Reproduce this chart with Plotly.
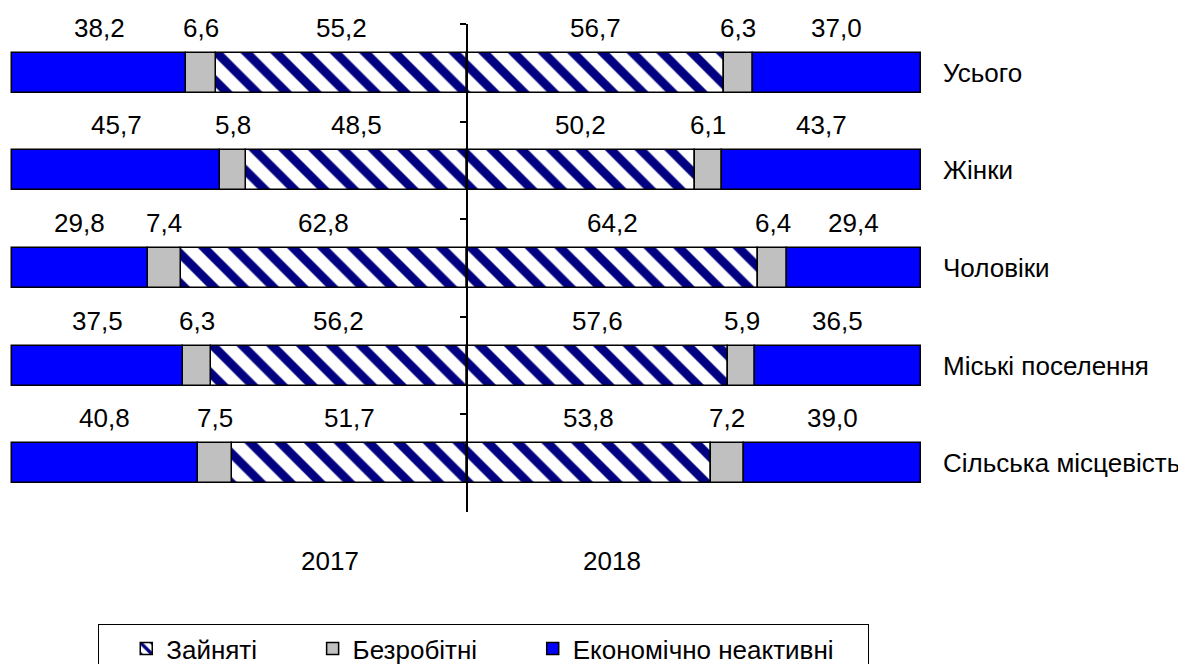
import plotly.graph_objects as go

# Categories (top to bottom)
categories = ['Усього', 'Жінки', 'Чоловіки', 'Міські поселення', 'Сільська місцевість']

# 2017 (left side), %
employed_2017 = [55.2, 48.5, 62.8, 56.2, 51.7]
unemployed_2017 = [6.6, 5.8, 7.4, 6.3, 7.5]
inactive_2017 = [38.2, 45.7, 29.8, 37.5, 40.8]

# 2018 (right side), %
employed_2018 = [56.7, 50.2, 64.2, 57.6, 53.8]
unemployed_2018 = [6.3, 6.1, 6.4, 5.9, 7.2]
inactive_2018 = [37.0, 43.7, 29.4, 36.5, 39.0]

years = ['2017', '2018']
year_pos = [-30, 32]

series_names = ['Зайняті', 'Безробітні', 'Економічно неактивні']

FONT = 'Arial, Liberation Sans, sans-serif'
FS = 26
NAVY = '#000080'
GREY = '#C0C0C0'
BLUE = '#0000FF'
BAR_W = 0.41
NB = '\u00a0'
legend_pad = [NB * 7, NB * 7, NB * 4]

styles = [
    dict(color='white', pattern=dict(shape='\\', fgcolor=NAVY, bgcolor='white', fgopacity=1,
                                     size=21, solidity=0.42)),
    dict(color=GREY),
    dict(color=BLUE),
]

fig = go.Figure()

left = [employed_2017, unemployed_2017, inactive_2017]
right = [employed_2018, unemployed_2018, inactive_2018]

for i, name in enumerate(series_names):
    fig.add_trace(go.Bar(
        y=categories, x=[-v for v in left[i]], orientation='h',
        name=name + legend_pad[i], legendgroup=name, showlegend=True,
        width=BAR_W, marker=dict(**styles[i], line=dict(color='black', width=1.5)),
        customdata=left[i], hovertemplate='%{y}<br>2017: %{customdata}<extra>' + name + '</extra>',
    ))
for i, name in enumerate(series_names):
    fig.add_trace(go.Bar(
        y=categories, x=right[i], orientation='h',
        name=name, legendgroup=name, showlegend=False,
        width=BAR_W, marker=dict(**styles[i], line=dict(color='black', width=1.5)),
        hovertemplate='%{y}<br>2018: %{x}<extra>' + name + '</extra>',
    ))

annotations = []
# value labels above each segment
for side, groups in ((-1, left), (1, right)):
    for j, cat in enumerate(categories):
        acc = 0
        for g in groups:
            v = g[j]
            center = side * (acc + v / 2)
            acc += v
            annotations.append(dict(
                x=center, y=cat, xref='x', yref='y', text=f'{v:.1f}'.replace('.', ','),
                showarrow=False, yshift=45, font=dict(size=FS, color='black', family=FONT),
            ))

# category labels on the right
for cat in categories:
    annotations.append(dict(
        x=1, y=cat, xref='paper', yref='y', text=cat, xanchor='left',
        xshift=18, showarrow=False, font=dict(size=FS, color='black', family=FONT),
    ))

# year labels
for yr, pos in zip(years, year_pos):
    annotations.append(dict(
        x=pos, y=0, xref='x', yref='paper', text=yr, yshift=-49, yanchor='middle',
        showarrow=False, font=dict(size=FS, color='black', family=FONT),
    ))

fig.update_layout(
    width=1186, height=664,
    barmode='relative',
    bargap=0,
    margin=dict(l=2, r=271, t=16, b=160, autoexpand=False),
    plot_bgcolor='white', paper_bgcolor='white',
    font=dict(family=FONT, size=FS, color='black'),
    xaxis=dict(range=[-100.5, 100.5], domain=[0, 1], showgrid=False, zeroline=False,
               showticklabels=False, ticks='', showline=False),
    yaxis=dict(categoryorder='array', categoryarray=categories, range=[4.5, -0.5],
               anchor='free', position=0.5, showline=True, linecolor='black', linewidth=1.5,
               ticks='outside', tickson='boundaries', ticklen=6, tickwidth=1.5, tickcolor='black',
               showticklabels=False, showgrid=False, zeroline=False),
    legend=dict(orientation='h', x=0.0964, xanchor='left', y=-0.2295, yanchor='top',
                bgcolor='white', bordercolor='black', borderwidth=1,
                title=dict(text=NB * 2, side='left'),
                font=dict(size=FS, family=FONT), traceorder='normal'),
    annotations=annotations,
    showlegend=True,
)

fig.write_html('out.html')
